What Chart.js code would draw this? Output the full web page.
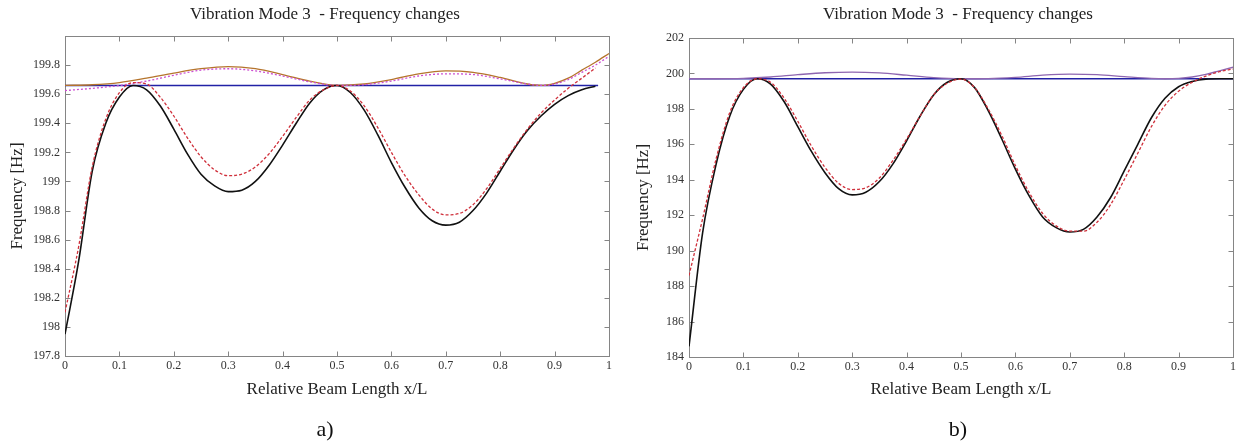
<!DOCTYPE html>
<html lang="en">
<head>
<meta charset="utf-8">
<title>Vibration Mode 3 - Frequency changes</title>
<script src="https://cdn.jsdelivr.net/npm/chart.js@4.4.1/dist/chart.umd.min.js"></script>
<style>
  html, body { margin: 0; padding: 0; background: #fff; overflow: hidden; }
  #planche { position: relative; width: 1240px; height: 446px; overflow: hidden; }
  #graphe-a { position: absolute; left: 0; top: 0; }
  #graphe-b { position: absolute; left: 620px; top: 0; }
</style>
</head>
<body>
<div id="planche">
  <canvas id="graphe-a" width="650" height="446"></canvas>
  <canvas id="graphe-b" width="676" height="446"></canvas>
</div>
<script>
// --- abscisses communes (x/L) ---
const abscisses = [0, 0.025, 0.05, 0.075, 0.1, 0.125, 0.15, 0.175, 0.2, 0.225,
  0.25, 0.275, 0.3, 0.325, 0.35, 0.375, 0.4, 0.425, 0.45, 0.475,
  0.5, 0.525, 0.55, 0.575, 0.6, 0.625, 0.65, 0.675, 0.7, 0.725,
  0.75, 0.775, 0.8, 0.825, 0.85, 0.875, 0.9, 0.925, 0.95, 0.975, 1];
const abscissesHautes = [0, 0.05, 0.1, 0.15, 0.2, 0.25, 0.3, 0.35, 0.4, 0.45,
  0.5, 0.55, 0.6, 0.65, 0.7, 0.75, 0.8, 0.85, 0.875, 0.9, 0.925, 0.95, 0.975, 1];

// --- graphe a) ---
const noirGauche = [197.95, 198.45, 199.07, 199.40, 199.58, 199.66, 199.63, 199.52, 199.36, 199.19,
  199.05, 198.97, 198.93, 198.94, 199.00, 199.11, 199.25, 199.40, 199.54, 199.63,
  199.66, 199.61, 199.49, 199.32, 199.13, 198.96, 198.82, 198.73, 198.70, 198.72,
  198.80, 198.92, 199.07, 199.22, 199.35, 199.45, 199.53, 199.59, 199.63, 199.655, null];
const rougeGauche = [198.10, 198.55, 199.10, 199.43, 199.61, 199.68, 199.67, 199.58, 199.45, 199.30,
  199.17, 199.08, 199.04, 199.05, 199.10, 199.19, 199.31, 199.44, 199.56, 199.63,
  199.66, 199.62, 199.52, 199.37, 199.20, 199.04, 198.91, 198.81, 198.77, 198.78,
  198.84, 198.95, 199.09, 199.23, 199.36, 199.47, 199.56, 199.64, 199.71, 199.78, null];
const orangeGauche = [199.66, 199.665, 199.68, 199.71, 199.745, 199.775, 199.79, 199.775, 199.735, 199.69,
  199.66, 199.67, 199.70, 199.74, 199.76, 199.75, 199.715, 199.67, 199.66, 199.675,
  199.71, 199.765, 199.82, 199.88];
const magentaGauche = [199.625, 199.64, 199.66, 199.69, 199.73, 199.765, 199.775, 199.76, 199.725, 199.685,
  199.66, 199.665, 199.69, 199.725, 199.74, 199.735, 199.705, 199.67, 199.66, 199.67,
  199.70, 199.75, 199.80, 199.86];
const xBleuGauche = [0, 0.98];
const bleuGauche = [199.66, 199.66];

// --- graphe b) ---
const noirDroite = [184.6, 191.0, 194.9, 197.6, 199.1, 199.7, 199.4, 198.4, 197.0, 195.6,
  194.4, 193.5, 193.15, 193.3, 193.9, 194.9, 196.2, 197.6, 198.8, 199.5,
  199.7, 199.2, 197.9, 196.3, 194.6, 193.1, 191.9, 191.3, 191.05, 191.2,
  191.9, 193.0, 194.5, 196.0, 197.5, 198.6, 199.25, 199.55, 199.68, 199.7, 199.7];
const rougeDroite = [188.6, 191.8, 195.2, 197.8, 199.2, 199.7, 199.5, 198.6, 197.3, 195.9,
  194.7, 193.8, 193.45, 193.55, 194.1, 195.1, 196.3, 197.6, 198.8, 199.45,
  199.68, 199.2, 198.0, 196.5, 194.8, 193.3, 192.1, 191.4, 191.1, 191.1,
  191.6, 192.6, 194.0, 195.5, 197.0, 198.2, 199.0, 199.5, 199.85, 200.1, 200.25];
const violetDroite = [199.7, 199.7, 199.72, 199.8, 199.93, 200.04, 200.08, 200.03, 199.9, 199.76,
  199.7, 199.71, 199.78, 199.9, 199.96, 199.93, 199.82, 199.72, 199.7, 199.72,
  199.8, 199.95, 200.15, 200.35];
const xBleuDroite = [0, 1];
const bleuDroite = [199.7, 199.7];

// --- graduations ---
const graduationsX = [0, 0.1, 0.2, 0.3, 0.4, 0.5, 0.6, 0.7, 0.8, 0.9, 1];
const graduationsGauche = [197.8, 198, 198.2, 198.4, 198.6, 198.8, 199, 199.2, 199.4, 199.6, 199.8];
const graduationsDroite = [184, 186, 188, 190, 192, 194, 196, 198, 200, 202];

Chart.defaults.font.family = "'Liberation Serif', 'Times New Roman', serif";
Chart.defaults.color = '#333';

// cadre gris + petites graduations intérieures façon MATLAB
const cadreMatlab = {
  id: 'cadreMatlab',
  beforeDatasetsDraw(chart) {
    const { ctx, chartArea: zone, scales: { x, y } } = chart;
    const g = Math.round(zone.left) + 0.5, d = Math.round(zone.right) + 0.5;
    const h = Math.round(zone.top) + 0.5, b = Math.round(zone.bottom) + 0.5;
    ctx.save();
    ctx.strokeStyle = '#858585';
    ctx.lineWidth = 1;
    ctx.strokeRect(g, h, d - g, b - h);
    ctx.beginPath();
    x.ticks.forEach(t => {
      const px = Math.round(x.getPixelForValue(t.value)) + 0.5;
      ctx.moveTo(px, b); ctx.lineTo(px, b - 5);
      ctx.moveTo(px, h); ctx.lineTo(px, h + 5);
    });
    y.ticks.forEach(t => {
      const py = Math.round(y.getPixelForValue(t.value)) + 0.5;
      ctx.moveTo(g, py); ctx.lineTo(g + 5, py);
      ctx.moveTo(d, py); ctx.lineTo(d - 5, py);
    });
    ctx.stroke();
    ctx.restore();
  }
};

const points = (xs, ys) => xs.map((x, i) => ({ x: x, y: ys[i] }));

function courbe(xs, ys, couleur, largeur, tirets) {
  return {
    data: points(xs, ys),
    borderColor: couleur,
    borderWidth: largeur,
    borderDash: tirets || [],
    pointRadius: 0,
    cubicInterpolationMode: 'monotone',
    fill: false
  };
}

function creerGraphe(idCanvas, r) {
  new Chart(document.getElementById(idCanvas).getContext('2d'), {
    type: 'line',
    data: { datasets: r.series },
    options: {
      responsive: false,
      animation: false,
      events: [],
      plugins: {
        legend: { display: false },
        tooltip: { enabled: false },
        title: {
          display: true,
          text: 'Vibration Mode 3  - Frequency changes',
          font: { size: 17, weight: 'normal' },
          color: '#222',
          padding: { top: 4, bottom: r.espaceTitre }
        },
        subtitle: {
          display: true,
          position: 'bottom',
          text: r.lettre,
          font: { size: 22, weight: 'normal' },
          color: '#111',
          padding: { top: 0, bottom: 3 }
        }
      },
      scales: {
        x: {
          type: 'linear',
          min: 0, max: 1,
          afterBuildTicks: s => { s.ticks = graduationsX.map(v => ({ value: v })); },
          afterFit: s => { s.height = r.hauteurX; },
          grid: { display: false, drawTicks: false },
          border: { display: false },
          ticks: { padding: 3, font: { size: 12 }, maxRotation: 0, autoSkip: false, callback: v => String(v) },
          title: { display: true, text: 'Relative Beam Length x/L', font: { size: 17 }, color: '#222', padding: { top: 0, bottom: 16.7 } }
        },
        y: {
          min: r.yMin, max: r.yMax,
          afterBuildTicks: s => { s.ticks = r.graduationsY.map(v => ({ value: v })); },
          afterFit: s => { s.width = r.largeurY; },
          grid: { display: false, drawTicks: false },
          border: { display: false },
          ticks: { padding: 5, font: { size: 12 }, callback: v => String(v) },
          title: { display: true, text: 'Frequency [Hz]', font: { size: 17 }, color: '#222', padding: { top: r.decalTitreY, bottom: 0 } }
        },
        // axe vide à droite : réserve la marge sans décentrer le titre
        marge: {
          position: 'right',
          afterFit: s => { s.width = r.margeDroite; },
          grid: { display: false, drawTicks: false },
          border: { display: false },
          ticks: { display: false }
        }
      }
    },
    plugins: [cadreMatlab]
  });
}

creerGraphe('graphe-a', {
  lettre: 'a)',
  yMin: 197.8, yMax: 200,
  graduationsY: graduationsGauche,
  largeurY: 65, margeDroite: 41,
  espaceTitre: 11.6, hauteurX: 60.6, decalTitreY: 7,
  series: [
    courbe(abscisses, rougeGauche, '#cf2f3a', 1.3, [3, 2]),
    courbe(abscisses, noirGauche, '#111111', 1.6),
    courbe(abscissesHautes, magentaGauche, '#cc4fd2', 1.3, [2, 2]),
    courbe(abscissesHautes, orangeGauche, '#b5742c', 1.3),
    courbe(xBleuGauche, bleuGauche, '#2222a6', 1.6)
  ]
});

creerGraphe('graphe-b', {
  lettre: 'b)',
  yMin: 184, yMax: 202,
  graduationsY: graduationsDroite,
  largeurY: 69, margeDroite: 63,
  espaceTitre: 13.6, hauteurX: 59.6, decalTitreY: 13,
  series: [
    courbe(abscisses, rougeDroite, '#cf2f3a', 1.3, [3, 2]),
    courbe(abscisses, noirDroite, '#111111', 1.6),
    courbe(abscissesHautes, violetDroite, '#8e66b0', 1.3),
    courbe(xBleuDroite, bleuDroite, '#2222a6', 1.6)
  ]
});
</script>
</body>
</html>
